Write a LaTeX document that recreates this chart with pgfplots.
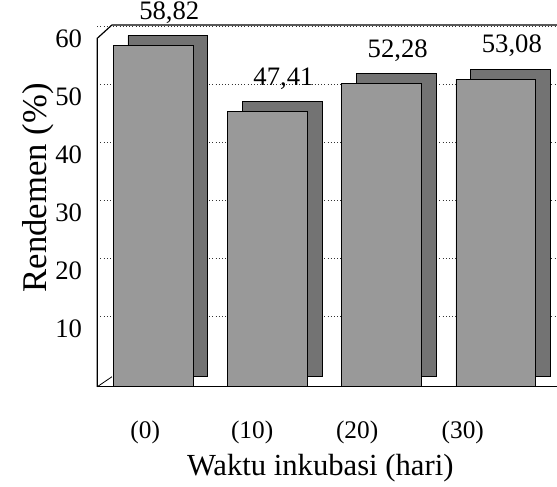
\documentclass[border=0pt]{standalone}
\usepackage{pgfplots}
\pgfplotsset{compat=1.18}
\usepackage{fontspec}
\setmainfont{Liberation Serif}
\begin{document}
\begin{tikzpicture}
\begin{axis}[
  scale only axis, width=345pt, height=271.5pt,
  xmin=-0.49, xmax=3.535, ymin=0, ymax=62.4,
  clip=false,
  axis line style={draw=none},
  major tick length=0pt,
  /pgf/number format/assume math mode=true,
  ytick={10,20,...,60},
  yticklabel style={font=\fontsize{20}{20}\selectfont, xshift=-8pt},
  xtick={-0.07,0.866,1.785,2.71},
  xticklabels={(0),(10),(20),(30)},
  xticklabel style={font=\fontsize{19}{19}\selectfont, yshift=-22pt},
  ymajorgrids,
  grid style={dotted, line width=0.8pt, black!80, yshift=9pt},
  xlabel={Waktu inkubasi (hari)},
  xlabel style={font=\fontsize{23}{23}\selectfont, at={(rel axis cs:0.485,0)}, anchor=center, yshift=-61pt},
  ylabel={Rendemen (\%)},
  ylabel style={font=\fontsize{26}{26}\selectfont, at={(rel axis cs:0,0.55)}, anchor=center, yshift=44pt},
]
\addplot[ybar, bar shift=0pt, bar width=0.7, fill=black!55, draw=black, line width=0.6pt, xshift=11pt, yshift=7.5pt]
  coordinates {(0,58.82) (1,47.41) (2,52.28) (3,53.08)};
\addplot[ybar, bar shift=0pt, bar width=0.7, fill=black!40, draw=black, line width=0.6pt,
  nodes near coords,
  nodes near coords style={font=\fontsize{20}{20}\selectfont, text=black, yshift=13pt, xshift=12pt,
    /pgf/number format/.cd, use comma, fixed, fixed zerofill, precision=2}]
  coordinates {(0,58.82) (1,47.41) (2,52.28) (3,53.08)};
\draw[line width=0.9pt] (rel axis cs:0,0) -- ([yshift=-10pt]rel axis cs:0,1) -- ([xshift=11pt]rel axis cs:0,1) -- (rel axis cs:1,1);
\draw[line width=0.9pt] (rel axis cs:0,0) -- (rel axis cs:1,0);
\draw[line width=0.6pt] (rel axis cs:0,0) -- ++(11pt,7.5pt);
\end{axis}
\pgfresetboundingbox
\path ([shift={(-73pt,-74.5pt)}]current axis.south west) rectangle ([shift={(0pt,18.75pt)}]current axis.north east);
\end{tikzpicture}
\end{document}
